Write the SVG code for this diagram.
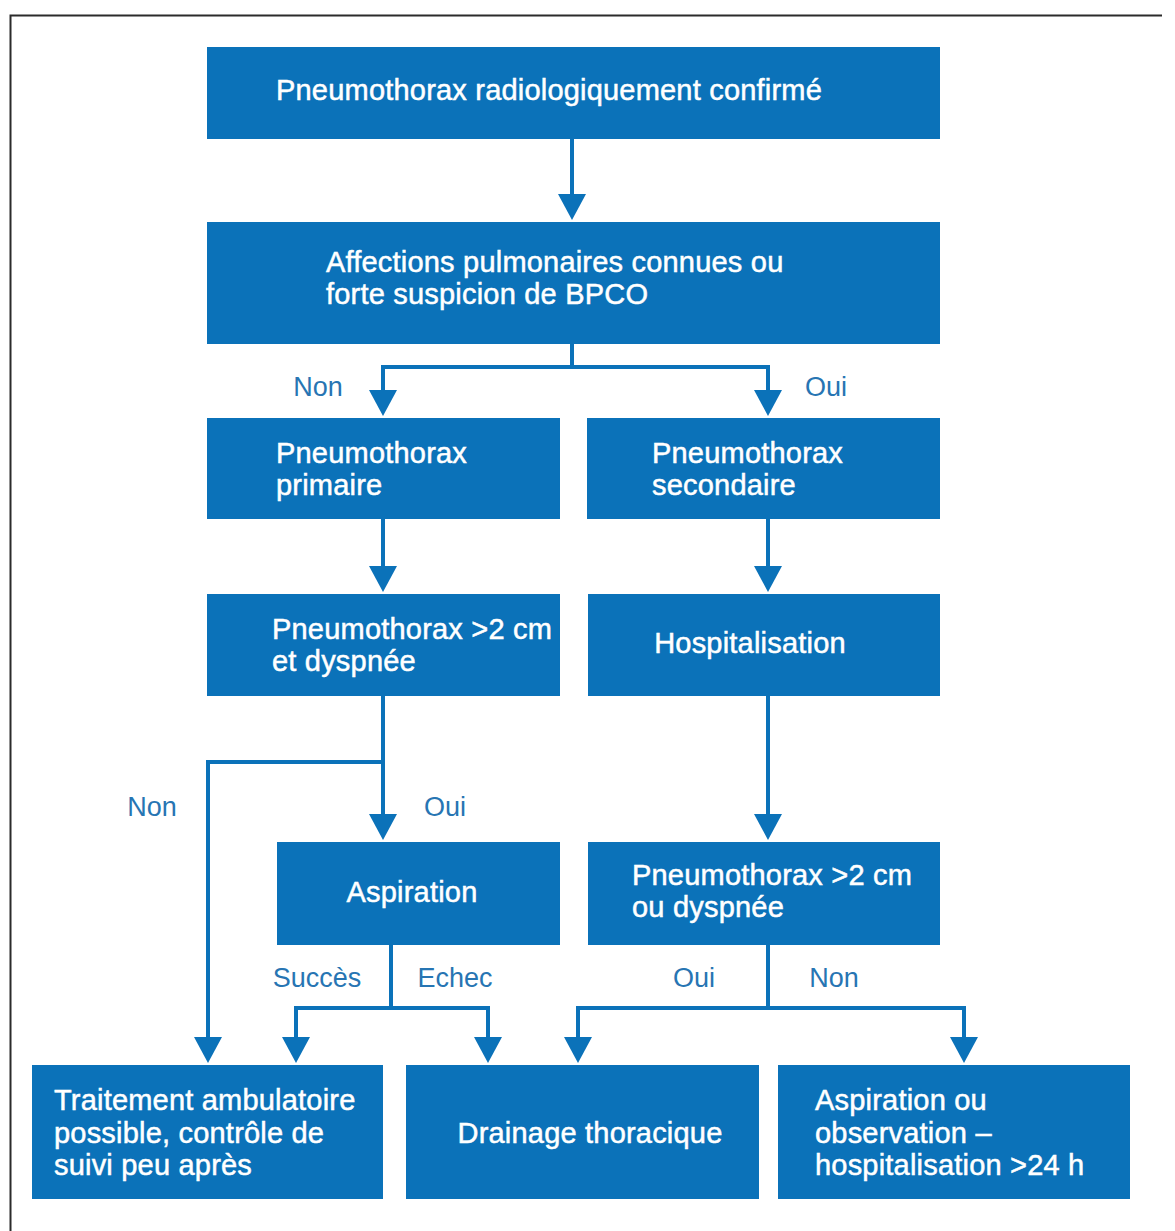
<svg xmlns="http://www.w3.org/2000/svg" width="1175" height="1231" viewBox="0 0 1175 1231">
<defs>
<marker id="arr" viewBox="0 0 26 28" refX="16" refY="14" markerWidth="26" markerHeight="28" markerUnits="userSpaceOnUse" orient="auto">
<path d="M0,0 L26,14 L0,28 z" fill="#0b72b9"/>
</marker>
</defs>
<style>
.box{fill:#0b72b9}
.t{font-family:"Liberation Sans",Arial,sans-serif;font-size:29px;fill:#ffffff;stroke:#ffffff;stroke-width:0.5;letter-spacing:0.2px}
.c{text-anchor:middle}
.lbl{font-family:"Liberation Sans",Arial,sans-serif;font-size:27px;fill:#2775b3;text-anchor:middle}
.ln{fill:none;stroke:#0b72b9;stroke-width:4;stroke-linejoin:miter}
.ar{marker-end:url(#arr)}
</style>
<rect width="1175" height="1231" fill="#ffffff"/>
<path d="M10.5,1231 V15.5 H1162" fill="none" stroke="#2b2b2b" stroke-width="2"/>

<g id="connectors">
<path class="ln ar" d="M572,139 V210"/>
<path class="ln ar" d="M572,344 V367 H383 V406"/>
<path class="ln ar" d="M572,367 H768 V406"/>
<path class="ln ar" d="M383,519 V582"/>
<path class="ln ar" d="M768,519 V582"/>
<path class="ln ar" d="M383,696 V830"/>
<path class="ln ar" d="M383,762 H208 V1053"/>
<path class="ln ar" d="M768,696 V830"/>
<path class="ln ar" d="M391,944 V1008 H296 V1053"/>
<path class="ln ar" d="M391,1008 H488 V1053"/>
<path class="ln ar" d="M768,944 V1008 H578 V1053"/>
<path class="ln ar" d="M768,1008 H964 V1053"/>
<text class="lbl" x="318" y="396">Non</text>
<text class="lbl" x="826" y="396">Oui</text>
<text class="lbl" x="152" y="816">Non</text>
<text class="lbl" x="445" y="816">Oui</text>
<text class="lbl" x="317" y="987">Succès</text>
<text class="lbl" x="455" y="987">Echec</text>
<text class="lbl" x="694" y="987">Oui</text>
<text class="lbl" x="834" y="987">Non</text>
</g>

<g id="n1"><rect class="box" x="207" y="47" width="733" height="92"/>
<text class="t" x="276" y="100">Pneumothorax radiologiquement confirmé</text></g>

<g id="n2"><rect class="box" x="207" y="222" width="733" height="122"/>
<text class="t" x="326" y="272">Affections pulmonaires connues ou</text>
<text class="t" x="326" y="304">forte suspicion de BPCO</text></g>

<g id="n3"><rect class="box" x="207" y="418" width="353" height="101"/>
<text class="t" x="276" y="463">Pneumothorax</text>
<text class="t" x="276" y="495">primaire</text></g>

<g id="n4"><rect class="box" x="587" y="418" width="353" height="101"/>
<text class="t" x="652" y="463">Pneumothorax</text>
<text class="t" x="652" y="495">secondaire</text></g>

<g id="n5"><rect class="box" x="207" y="594" width="353" height="102"/>
<text class="t" x="272" y="639">Pneumothorax &gt;2 cm</text>
<text class="t" x="272" y="671">et dyspnée</text></g>

<g id="n6"><rect class="box" x="588" y="594" width="352" height="102"/>
<text class="t c" x="750" y="653">Hospitalisation</text></g>

<g id="n7"><rect class="box" x="277" y="842" width="283" height="103"/>
<text class="t c" x="412" y="902">Aspiration</text></g>

<g id="n8"><rect class="box" x="588" y="842" width="352" height="103"/>
<text class="t" x="632" y="885">Pneumothorax &gt;2 cm</text>
<text class="t" x="632" y="917">ou dyspnée</text></g>

<g id="n9"><rect class="box" x="32" y="1065" width="351" height="134"/>
<text class="t" x="54" y="1110">Traitement ambulatoire</text>
<text class="t" x="54" y="1143">possible, contrôle de</text>
<text class="t" x="54" y="1175">suivi peu après</text></g>

<g id="n10"><rect class="box" x="406" y="1065" width="353" height="134"/>
<text class="t c" x="590" y="1143">Drainage thoracique</text></g>

<g id="n11"><rect class="box" x="778" y="1065" width="352" height="134"/>
<text class="t" x="815" y="1110">Aspiration ou</text>
<text class="t" x="815" y="1143">observation –</text>
<text class="t" x="815" y="1175">hospitalisation &gt;24 h</text></g>
</svg>
